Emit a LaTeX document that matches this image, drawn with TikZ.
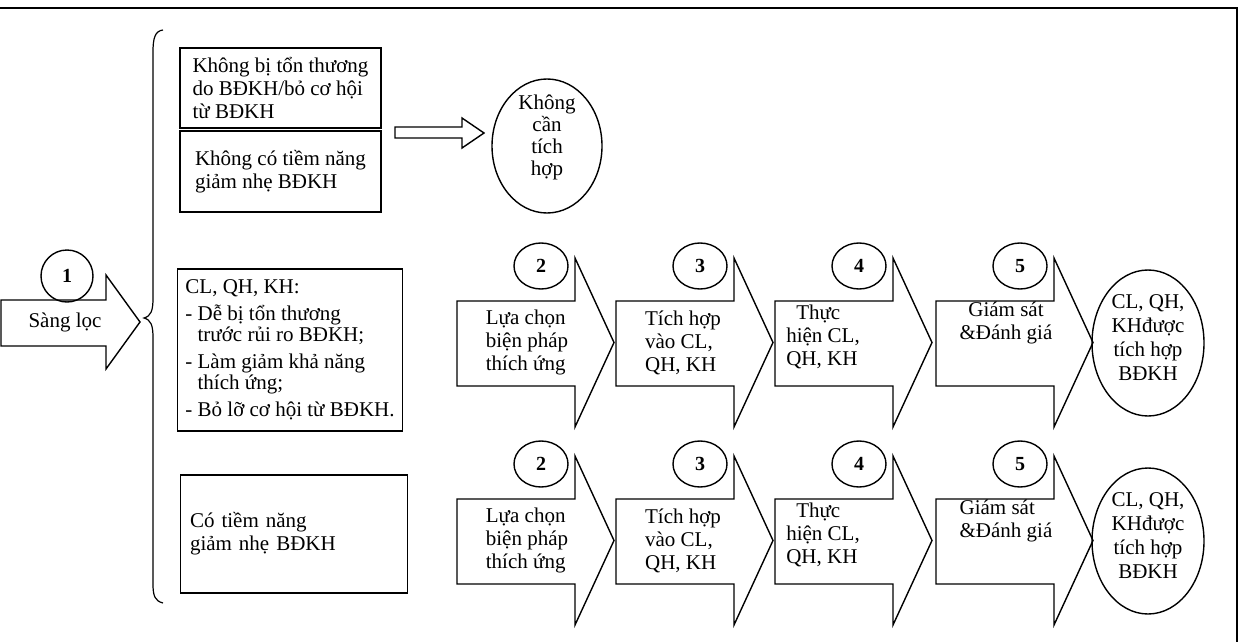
\documentclass[tikz,border=0pt]{standalone}
\usepackage{fontspec}
\setmainfont{Liberation Serif}
\usetikzlibrary{shapes.geometric}

\tikzset{
  lbl/.style={font=\fontsize{21}{23}\selectfont, align=left, inner sep=0pt},
  box/.style={lbl, draw},
  numc/.style={draw, ellipse, minimum width=54pt, minimum height=46pt, inner sep=0pt, font=\fontsize{20}{20}\selectfont\bfseries},
}

\begin{document}
\begin{tikzpicture}[x=1pt,y=-1pt,line width=1.4pt]
        \useasboundingbox (0,0) rectangle (1239,642);
        %% Frame
        \draw[line width=1.8pt] (0,8) -- (1237,8) -- (1237,642);
        %% Screening
        \node[numc, minimum width=52pt, minimum height=52pt] (n1) at (67,276) {1};
        \draw (1,300) -- (106,300) -- (106,275) -- (140,322) -- (106,369) -- (106,346) -- (1,346) -- cycle;
        \node[lbl] (sang) at (65,322) {Sàng lọc};
        %% Brace
        \draw[line width=1.2pt] (163,30) .. controls (155,31) and (153,38) .. (153,52) -- (153,298) .. controls (153,311) and (151,316) .. (144,318) .. controls (151,320) and (153,325) .. (153,338) -- (153,584) .. controls (153,596) and (155,601) .. (163,603);
        %% No integration needed
        \node[box, minimum width=201pt, minimum height=80pt] (boxa) at (280.5,88) {Không bị tổn thương\\do BĐKH/bỏ cơ hội\\từ BĐKH};
        \node[box, minimum width=201pt, minimum height=81pt] (boxb) at (280.5,171.5) {Không có tiềm năng\\giảm nhẹ BĐKH};
        \draw (395,127) -- (462,127) -- (462,118) -- (484,133) -- (462,148) -- (462,138) -- (395,138) -- cycle;
        \node[draw, ellipse, minimum width=110pt, minimum height=134pt] (kct) at (547,146) {};
        \node[lbl, align=center, font=\fontsize{21}{22}\selectfont] (kcttxt) at (547,137) {Không\\cần\\tích\\hợp};
        %% Integration needed
        \node[box, font=\fontsize{21}{21}\selectfont, minimum width=225pt, minimum height=162pt] (boxc) at (290,350) {CL, QH, KH:\\[6pt]- Dễ bị tổn thương\\\phantom{- }trước rủi ro BĐKH;\\[6pt]- Làm giảm khả năng\\\phantom{- }thích ứng;\\[6pt]- Bỏ lỡ cơ hội từ BĐKH.};
        \node[box, text width=208pt, inner xsep=9.5pt, minimum height=118pt] (boxd) at (294,534) {Có tiềm năng\\giảm nhẹ BĐKH};
        %% Steps 2-5
        \foreach \r/\dy/\al in {a/0/center,b/198/left} {
          \foreach \i/\xl/\tx/\ty/\t in {2/457/70/0/{Lựa chọn\\biện pháp\\thích ứng},3/616/67/0/{Tích hợp\\vào CL,\\QH, KH},4/775/48/-6/{\hspace*{10pt}Thực\\hiện CL,\\QH, KH}} {
            \draw (\xl,301+\dy) -- (\xl+118,301+\dy) -- (\xl+118,258+\dy) -- (\xl+157,342.5+\dy) -- (\xl+118,427+\dy) -- (\xl+118,386+\dy) -- (\xl,386+\dy) -- cycle;
            \node[numc] (n\i\r) at (\xl+84,266+\dy) {\i};
            \node[lbl] (s\i\r) at (\xl+\tx,342.5+\ty+\dy) {\t};
          }
          \draw (936,301+\dy) -- (1054,301+\dy) -- (1054,258+\dy) -- (1093,342.5+\dy) -- (1054,427+\dy) -- (1054,386+\dy) -- (936,386+\dy) -- cycle;
          \node[numc] (n5\r) at (1020,266+\dy) {5};
          \node[lbl, align=\al] (s5\r) at (1006,322.5+\dy) {Giám sát\\\&Đánh giá};
          \node[draw, ellipse, minimum width=112pt, minimum height=146pt] (end\r) at (1148,343+\dy) {};
          \node[lbl, align=center, font=\fontsize{21}{24}\selectfont] (endtxt\r) at (1148,338+\dy) {CL, QH,\\KHđược\\tích hợp\\BĐKH};
        }
\end{tikzpicture}
\end{document}
